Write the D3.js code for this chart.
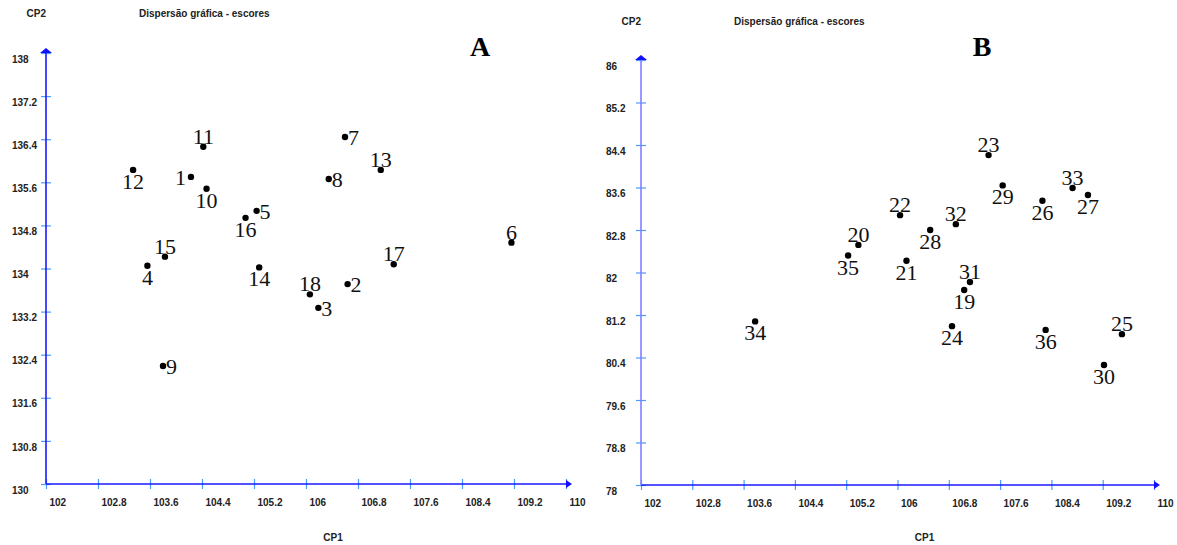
<!DOCTYPE html>
<html>
<head>
<meta charset="utf-8">
<script src="https://cdn.jsdelivr.net/npm/d3@7"></script>
<style>
  body { margin: 0; background: #fff; }
  .tick text { font-family: "Liberation Sans", Arial, sans-serif; font-weight: bold; font-size: 10px; fill: #222; }
  .lbl { font-family: "Liberation Sans", Arial, sans-serif; font-weight: bold; font-size: 10px; fill: #222; }
  .num { font-family: "Liberation Serif", "Times New Roman", serif; font-size: 22px; fill: #111; }
</style>
</head>
<body>
<svg id="chart" width="1177" height="545"></svg>
<script>
// panel A
const idsA = [1, 2, 3, 4, 5, 6, 7, 8, 9, 10, 11, 12, 13, 14, 15, 16, 17, 18]
const cp1A = [104.23, 106.64, 106.19, 103.56, 105.24, 109.16, 106.60, 106.35, 103.80, 104.47, 104.42, 103.34, 107.15, 105.28, 103.83, 105.07, 107.35, 106.06]
const cp2A = [135.70, 133.71, 133.27, 134.05, 135.07, 134.48, 136.44, 135.66, 132.19, 135.48, 136.26, 135.83, 135.83, 134.02, 134.22, 134.94, 134.08, 133.52]
const sideA = ['l', 'r', 'r', 'b', 'r', 't', 'r', 'r', 'r', 'b', 't', 'b', 't', 'b', 't', 'b', 't', 't']
const yTicksA = [130, 130.8, 131.6, 132.4, 133.2, 134, 134.8, 135.6, 136.4, 137.2, 138]

// panel B
const idsB = [19, 20, 21, 22, 23, 24, 25, 26, 27, 28, 29, 30, 31, 32, 33, 34, 35, 36]
const cp1B = [107.04, 105.39, 106.14, 106.04, 107.42, 106.85, 109.50, 108.26, 108.97, 106.51, 107.64, 109.22, 107.13, 106.91, 108.73, 103.78, 105.23, 108.31]
const cp2B = [81.67, 82.52, 82.22, 83.08, 84.21, 80.99, 80.84, 83.35, 83.46, 82.80, 83.64, 80.26, 81.82, 82.91, 83.59, 81.08, 82.32, 80.92]
const sideB = ['b', 't', 'b', 't', 't', 'b', 't', 'b', 'b', 'b', 'b', 'b', 't', 't', 't', 'b', 'b', 'b']
const yTicksB = [78, 78.8, 79.6, 80.4, 81.2, 82, 82.8, 83.6, 84.4, 85.2, 86]

const xTicks = [102, 102.8, 103.6, 104.4, 105.2, 106, 106.8, 107.6, 108.4, 109.2, 110]

const svg = d3.select('#chart')

function drawPanel(opt) {
  const x = d3.scaleLinear().domain([102, 110]).range([opt.left, opt.right])
  const y = d3.scaleLinear().domain(opt.yDomain).range([opt.bottom, opt.top])
  const g = svg.append('g')

  // x axis
  const xa = g.append('g')
    .attr('transform', `translate(0,${opt.bottom})`)
    .call(d3.axisBottom(x).tickValues(xTicks).tickFormat(d3.format('')).tickSizeOuter(0))
  xa.select('.domain').remove()
  xa.selectAll('.tick line').attr('y1', -5).attr('y2', 5).attr('stroke', '#4a9cff').attr('stroke-width', 1.2)
  xa.selectAll('.tick text').attr('text-anchor', 'start').attr('x', 3).attr('y', 22).attr('dy', null)

  // y axis
  const ya = g.append('g')
    .attr('transform', `translate(${opt.left},0)`)
    .call(d3.axisLeft(y).tickValues(opt.yTicks).tickFormat(d3.format('')).tickSizeOuter(0))
  ya.select('.domain').remove()
  ya.selectAll('.tick line').attr('x1', -5).attr('x2', 5).attr('stroke', '#4a9cff').attr('stroke-width', 1.2)
  ya.selectAll('.tick text').attr('text-anchor', 'start').attr('x', opt.yLabelX - opt.left).attr('y', 6).attr('dy', '0.32em')

  // axis lines + arrows
  g.append('line')
    .attr('x1', opt.left).attr('x2', opt.right + 1)
    .attr('y1', opt.bottom).attr('y2', opt.bottom)
    .attr('stroke', '#1a1aff').attr('stroke-width', 1.6)
  g.append('path')
    .attr('d', `M${opt.right},${opt.bottom - 4}L${opt.right + 6},${opt.bottom}L${opt.right},${opt.bottom + 4}Z`)
    .attr('fill', '#1010ff')
  g.append('line')
    .attr('x1', opt.left).attr('x2', opt.left)
    .attr('y1', opt.bottom).attr('y2', opt.top - 2)
    .attr('stroke', opt.yColor).attr('stroke-width', 1.6)
  g.append('path')
    .attr('d', `M${opt.left - 6},${opt.top}L${opt.left},${opt.top - 5}L${opt.left + 6},${opt.top}Z`)
    .attr('fill', '#1010ff')

  // titles
  g.append('text').attr('class', 'lbl').attr('text-anchor', 'end')
    .attr('x', opt.left).attr('y', opt.titleY).attr('dy', '0.35em').text('CP2')
  g.append('text').attr('class', 'lbl')
    .attr('x', opt.left + 93).attr('y', opt.titleY).attr('dy', '0.35em').text('Dispersão gráfica - escores')
  g.append('text').attr('class', 'lbl').attr('text-anchor', 'middle')
    .attr('x', (opt.left + opt.right) / 2 + 27).attr('y', 537).attr('dy', '0.35em').text('CP1')
  g.append('text')
    .attr('x', opt.letterX).attr('y', 56)
    .attr('text-anchor', 'middle')
    .style('font-family', '"Liberation Serif", "Times New Roman", serif')
    .style('font-weight', 'bold').style('font-size', '28px')
    .text(opt.letter)

  const pts = opt.ids.map((id, i) => ({ id: id, cx: opt.cp1[i], cy: opt.cp2[i], side: opt.side[i] }))

  const off = {
    t: { dx: 0, dy: -3, anchor: 'middle' },
    b: { dx: 0, dy: 19, anchor: 'middle' },
    r: { dx: 3, dy: 8, anchor: 'start' },
    l: { dx: -5, dy: 8, anchor: 'end' }
  }

  g.selectAll('.num').data(pts).enter().append('text')
    .attr('class', 'num')
    .attr('x', d => x(d.cx) + off[d.side].dx)
    .attr('y', d => y(d.cy) + off[d.side].dy)
    .attr('text-anchor', d => off[d.side].anchor)
    .text(d => d.id)

  g.selectAll('.dot').data(pts).enter().append('circle')
    .attr('class', 'dot')
    .attr('cx', d => x(d.cx))
    .attr('cy', d => y(d.cy))
    .attr('r', 3.2)
    .attr('fill', '#000')
}

drawPanel({
  ids: idsA, cp1: cp1A, cp2: cp2A, side: sideA,
  yDomain: [130, 138], yTicks: yTicksA,
  left: 46, right: 566, bottom: 484, top: 53,
  yLabelX: 12, titleY: 13, yColor: '#1a1aff',
  letter: 'A', letterX: 480
})

drawPanel({
  ids: idsB, cp1: cp1B, cp2: cp2B, side: sideB,
  yDomain: [78, 86], yTicks: yTicksB,
  left: 641, right: 1154, bottom: 485, top: 60,
  yLabelX: 606, titleY: 21, yColor: '#8080ff',
  letter: 'B', letterX: 982
})
</script>
</body>
</html>
